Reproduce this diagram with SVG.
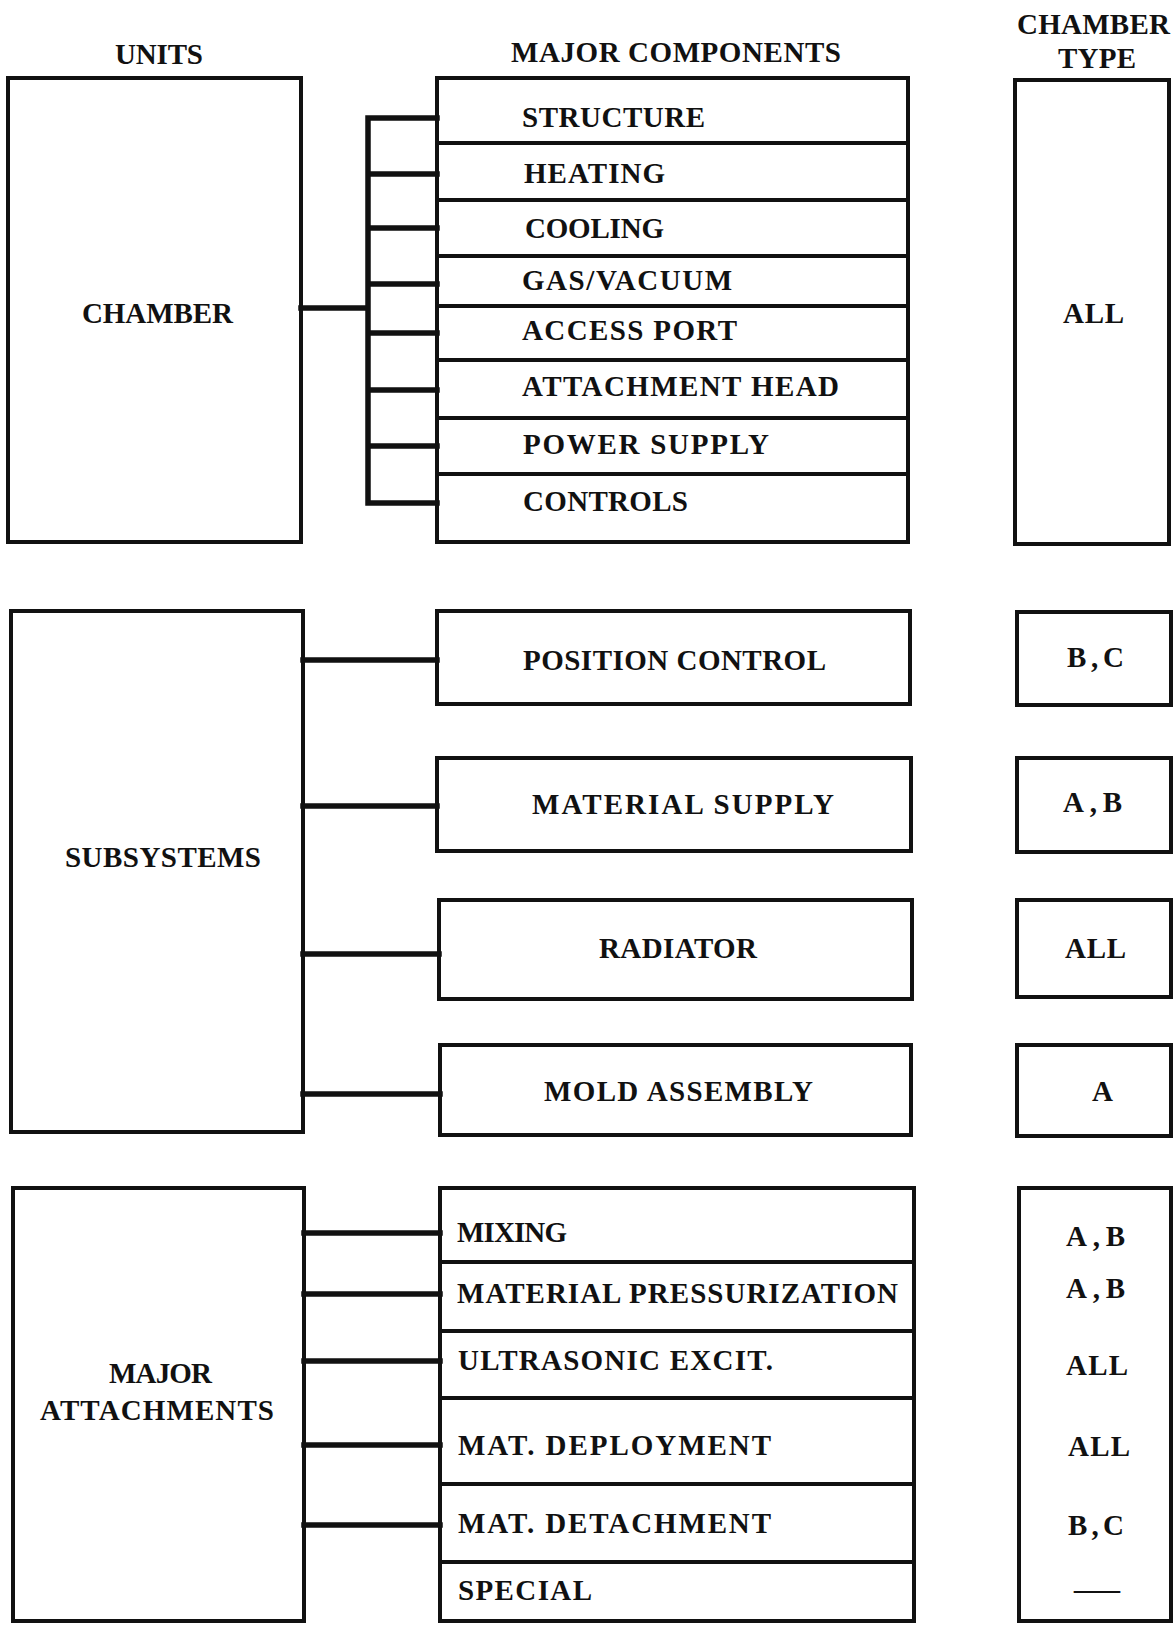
<svg xmlns="http://www.w3.org/2000/svg" width="1175" height="1625" viewBox="0 0 1175 1625">
<style>
rect.b{fill:none;stroke:#111;stroke-width:4}
text{font-family:"Liberation Serif","DejaVu Serif",serif;font-size:29px;font-weight:bold;fill:#111}
.c{fill:none;stroke:#111;stroke-width:5.5;stroke-linecap:square}
</style>
<rect x="0" y="0" width="1175" height="1625" fill="#fff"/>
<g id="headers">
<text x="115" y="64" textLength="88">UNITS</text>
<text x="511" y="62" textLength="330">MAJOR COMPONENTS</text>
<text x="1017" y="34" textLength="153">CHAMBER</text>
<text x="1058" y="68" textLength="78">TYPE</text>
</g>
<g id="connectors">
<path class="c" d="M368 118V503M368 118H437M368 174H437M368 228H437M368 284H437M368 333H437M368 390H437M368 446H437M368 503H437M301 308H368"/>
<path class="c" d="M303 660H437M303 806H437M303 954H439M303 1094H440"/>
<path class="c" d="M304 1233H440M304 1294H440M304 1361H440M304 1445H440M304 1525H440"/>
</g>
<g id="unit-chamber"><rect class="b" x="8" y="78" width="293" height="464"/><text x="82" y="323" textLength="151">CHAMBER</text></g>
<g id="c-structure"><rect class="b" x="437" y="78" width="471" height="65"/><text x="522" y="127" textLength="183">STRUCTURE</text></g>
<g id="c-heating"><rect class="b" x="437" y="143" width="471" height="57"/><text x="524" y="183" textLength="141">HEATING</text></g>
<g id="c-cooling"><rect class="b" x="437" y="200" width="471" height="56"/><text x="525" y="238" textLength="139">COOLING</text></g>
<g id="c-gas"><rect class="b" x="437" y="256" width="471" height="50"/><text x="522" y="290" textLength="210">GAS/VACUUM</text></g>
<g id="c-access"><rect class="b" x="437" y="306" width="471" height="54"/><text x="522" y="340" textLength="215">ACCESS PORT</text></g>
<g id="c-attach"><rect class="b" x="437" y="360" width="471" height="58"/><text x="522" y="396" textLength="317">ATTACHMENT HEAD</text></g>
<g id="c-power"><rect class="b" x="437" y="418" width="471" height="56"/><text x="523" y="454" textLength="246">POWER SUPPLY</text></g>
<g id="c-controls"><rect class="b" x="437" y="474" width="471" height="68"/><text x="523" y="511" textLength="165">CONTROLS</text></g>
<g id="t-chamber"><rect class="b" x="1015" y="80" width="154" height="464"/><text x="1063" y="323" textLength="61">ALL</text></g>

<g id="unit-subsystems"><rect class="b" x="11" y="611" width="292" height="521"/><text x="65" y="867" textLength="196">SUBSYSTEMS</text></g>
<g id="s-position"><rect class="b" x="437" y="611" width="473" height="93"/><text x="523" y="670" textLength="303">POSITION CONTROL</text></g>
<g id="s-material"><rect class="b" x="437" y="758" width="474" height="93"/><text x="532" y="814" textLength="302">MATERIAL SUPPLY</text></g>
<g id="s-radiator"><rect class="b" x="439" y="900" width="473" height="99"/><text x="599" y="958" textLength="158">RADIATOR</text></g>
<g id="s-mold"><rect class="b" x="440" y="1045" width="471" height="90"/><text x="544" y="1101" textLength="269">MOLD ASSEMBLY</text></g>
<g id="t-position"><rect class="b" x="1017" y="612" width="154" height="93"/><text x="1067" y="667" textLength="57">B,C</text></g>
<g id="t-material"><rect class="b" x="1017" y="758" width="154" height="94"/><text x="1063" y="812" textLength="59">A,B</text></g>
<g id="t-radiator"><rect class="b" x="1017" y="900" width="154" height="97"/><text x="1065" y="958" textLength="61">ALL</text></g>
<g id="t-mold"><rect class="b" x="1017" y="1045" width="154" height="91"/><text x="1092" y="1101">A</text></g>

<g id="unit-attachments"><rect class="b" x="13" y="1188" width="291" height="433"/><text x="109" y="1383" textLength="103">MAJOR</text><text x="40" y="1420" textLength="234">ATTACHMENTS</text></g>
<g id="a-mixing"><rect class="b" x="440" y="1188" width="474" height="74"/><text x="457" y="1242" textLength="110">MIXING</text></g>
<g id="a-press"><rect class="b" x="440" y="1262" width="474" height="69"/><text x="457" y="1303" textLength="441">MATERIAL PRESSURIZATION</text></g>
<g id="a-ultra"><rect class="b" x="440" y="1331" width="474" height="67"/><text x="458" y="1370" textLength="315">ULTRASONIC EXCIT.</text></g>
<g id="a-deploy"><rect class="b" x="440" y="1398" width="474" height="86"/><text x="458" y="1455" textLength="313">MAT. DEPLOYMENT</text></g>
<g id="a-detach"><rect class="b" x="440" y="1484" width="474" height="78"/><text x="458" y="1533" textLength="313">MAT. DETACHMENT</text></g>
<g id="a-special"><rect class="b" x="440" y="1562" width="474" height="59"/><text x="458" y="1600" textLength="134">SPECIAL</text></g>
<g id="t-attachments"><rect class="b" x="1019" y="1188" width="152" height="433"/>
<text x="1066" y="1246" textLength="59">A,B</text>
<text x="1066" y="1298" textLength="59">A,B</text>
<text x="1066" y="1375" textLength="62">ALL</text>
<text x="1068" y="1456" textLength="62">ALL</text>
<text x="1068" y="1535" textLength="56">B,C</text>
<text x="1074" y="1599" textLength="46" lengthAdjust="spacingAndGlyphs">—</text>
</g>
</svg>
